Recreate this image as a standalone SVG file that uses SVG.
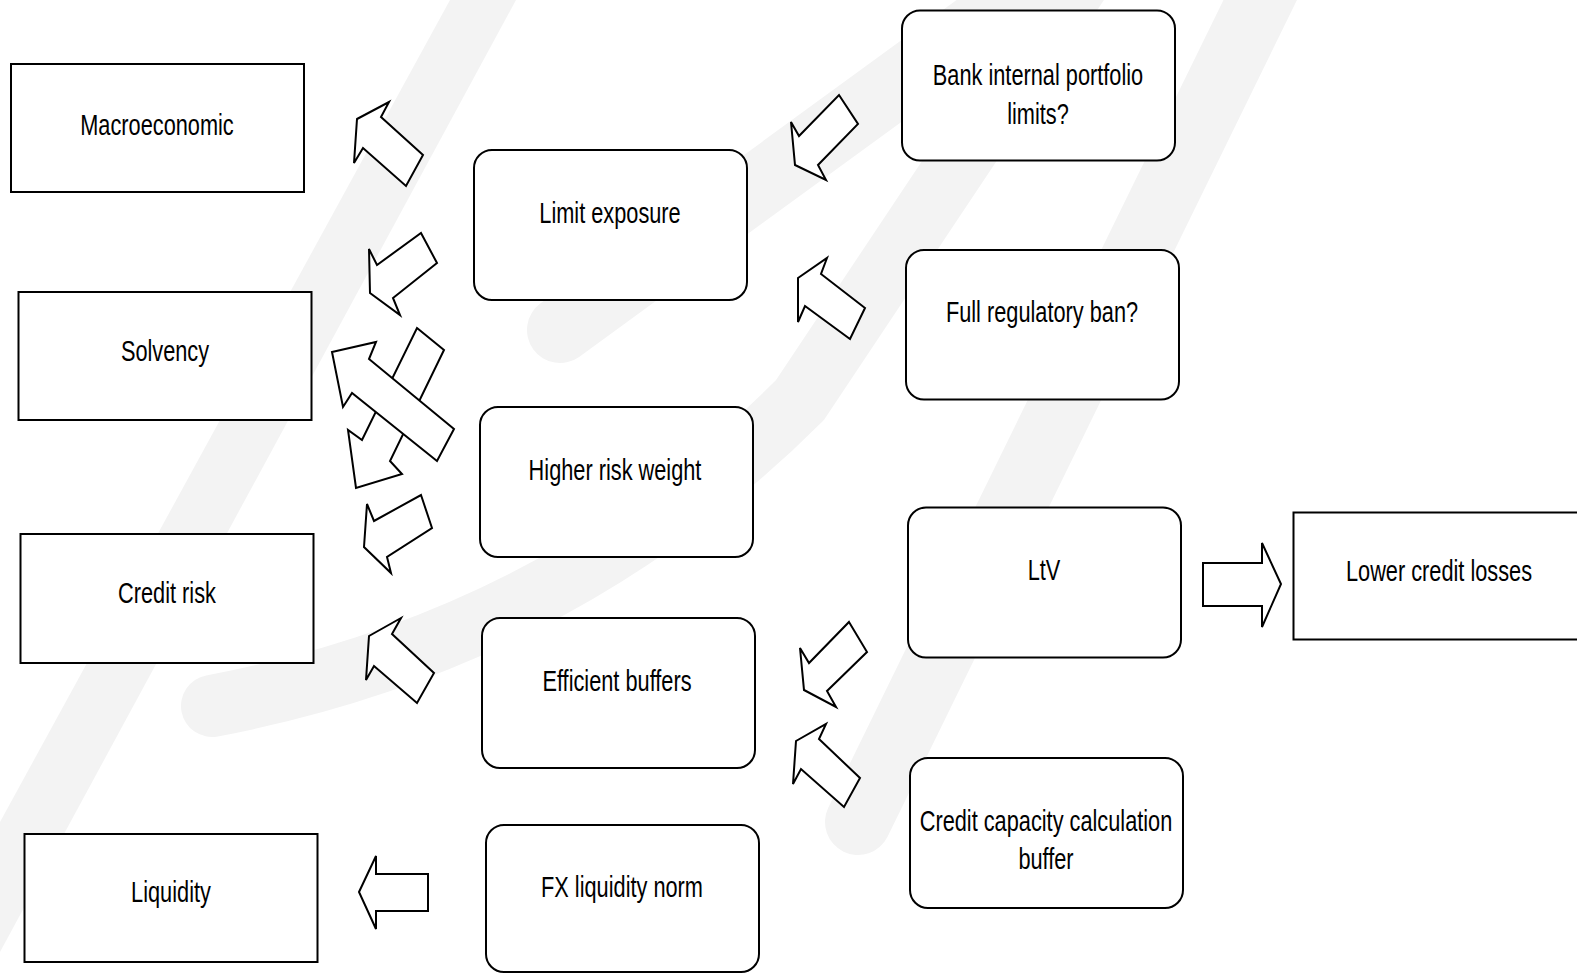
<svg xmlns="http://www.w3.org/2000/svg" width="1577" height="973" viewBox="0 0 1577 973">
<style>
.wm{fill:#f3f3f3;stroke:none}
.wms{fill:none;stroke:#f3f3f3;stroke-linecap:round}
.sq{fill:#fff;stroke:#000;stroke-width:2}
.rd{fill:#fff;stroke:#000;stroke-width:2}
.ar{fill:#fff;stroke:#000;stroke-width:2;stroke-linejoin:miter}
.t{font-family:"Liberation Sans",Arial,sans-serif;font-size:29px;text-anchor:middle;fill:#000}
</style>
<rect width="1577" height="973" fill="#fff"/>
<g id="watermark">
<polygon class="wm" points="450,0 516,0 0,952 0,822"/>
<path class="wms" stroke-width="62" d="M212,706 Q560,640 800,400 L1080,-20"/>
<path class="wms" stroke-width="66" d="M560,330 L1040,-20"/>
<path class="wms" stroke-width="66" d="M858,822 L1270,-20"/>
</g>
<g id="connectors">
<polygon class="ar" points="357,119 389,102 381,117 423,155 406,186 363,148 354,163"/>
<polygon class="ar" points="421,233 437,263 393,298 400,315 370,293 369,249 377,265"/>
<polygon class="ar" points="417,328 444,350 390,461 402,474 356,488 348,430 362,440"/>
<polygon class="ar" points="332,352 376,342 369,359 454,429 437,461 352,393 343,407"/>
<polygon class="ar" points="421,495 432,528 387,557 391,573 364,547 367,504 374,521"/>
<polygon class="ar" points="369,636 401,618 392,634 434,673 417,703 374,666 366,680"/>
<polygon class="ar" points="359,892 376,856 376,874 428,874 428,911 376,911 376,929"/>
<polygon class="ar" points="839,95 858,124 818,165 826,180 795,165 791,122 799,136"/>
<polygon class="ar" points="798,278 827,258 821,274 865,308 850,339 805,306 798,322"/>
<polygon class="ar" points="849,622 867,652 827,691 836,707 804,690 800,648 809,663"/>
<polygon class="ar" points="796,741 826,724 819,739 860,778 844,807 801,769 793,784"/>
<polygon class="ar" points="1203,563 1262,563 1262,543 1281,584 1262,627 1262,606 1203,606"/>
</g>
<g id="n-macro"><rect class="sq" x="11" y="64" width="293" height="128"/><text class="t" transform="translate(157,135) scale(0.75,1)">Macroeconomic</text></g>
<g id="n-solvency"><rect class="sq" x="18.5" y="292" width="293" height="128"/><text class="t" transform="translate(165,361) scale(0.75,1)">Solvency</text></g>
<g id="n-creditrisk"><rect class="sq" x="20.5" y="534" width="293" height="129"/><text class="t" transform="translate(167,603) scale(0.75,1)">Credit risk</text></g>
<g id="n-liquidity"><rect class="sq" x="24.5" y="834" width="293" height="128"/><text class="t" transform="translate(171,902) scale(0.75,1)">Liquidity</text></g>
<g id="n-limit"><rect class="rd" x="474" y="150" width="273" height="150" rx="18"/><text class="t" transform="translate(610,223) scale(0.75,1)">Limit exposure</text></g>
<g id="n-riskweight"><rect class="rd" x="480" y="407" width="273" height="150" rx="18"/><text class="t" transform="translate(615,480) scale(0.75,1)">Higher risk weight</text></g>
<g id="n-buffers"><rect class="rd" x="482" y="618" width="273" height="150" rx="18"/><text class="t" transform="translate(617,691) scale(0.75,1)">Efficient buffers</text></g>
<g id="n-fx"><rect class="rd" x="486" y="825" width="273" height="147" rx="18"/><text class="t" transform="translate(622,897) scale(0.75,1)">FX liquidity norm</text></g>
<g id="n-bank"><rect class="rd" x="902" y="10.5" width="273" height="150" rx="18"/><text class="t" transform="translate(1038,85) scale(0.75,1)">Bank internal portfolio</text><text class="t" transform="translate(1038,124) scale(0.75,1)">limits?</text></g>
<g id="n-ban"><rect class="rd" x="906" y="250" width="273" height="149.5" rx="18"/><text class="t" transform="translate(1042,322) scale(0.75,1)">Full regulatory ban?</text></g>
<g id="n-ltv"><rect class="rd" x="908" y="507.5" width="273" height="150" rx="18"/><text class="t" transform="translate(1044,580) scale(0.75,1)">LtV</text></g>
<g id="n-capacity"><rect class="rd" x="910" y="758" width="273" height="150" rx="18"/><text class="t" transform="translate(1046,831) scale(0.75,1)">Credit capacity calculation</text><text class="t" transform="translate(1046,869) scale(0.75,1)">buffer</text></g>
<g id="n-losses"><rect class="sq" x="1293.5" y="512.5" width="300" height="127"/><text class="t" transform="translate(1439,581) scale(0.75,1)">Lower credit losses</text></g>
</svg>
